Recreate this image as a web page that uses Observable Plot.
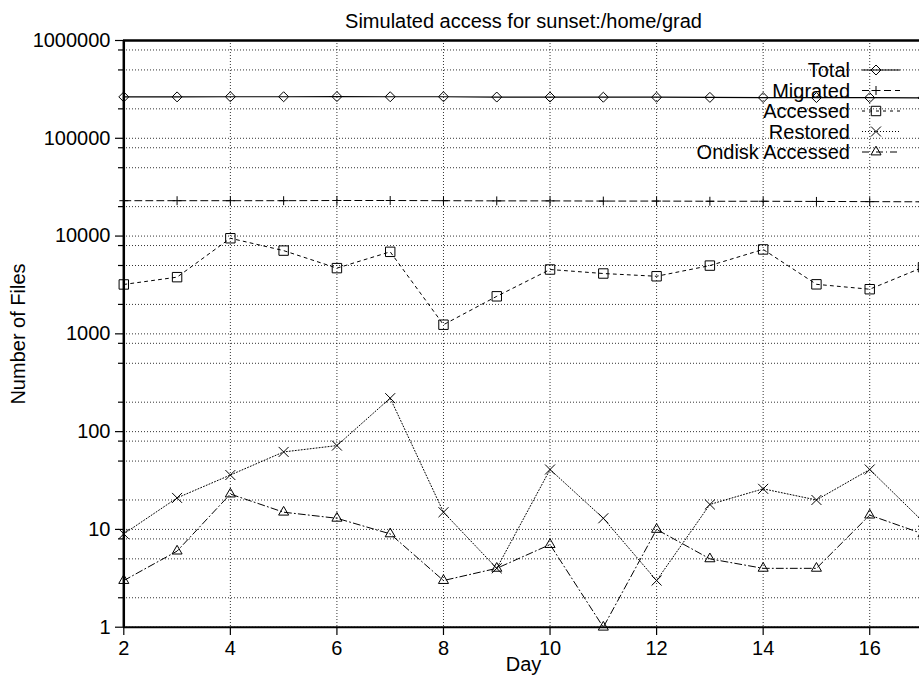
<!DOCTYPE html>
<html>
<head>
<meta charset="utf-8">
<script src="https://cdn.jsdelivr.net/npm/d3@7"></script>
<script src="https://cdn.jsdelivr.net/npm/@observablehq/plot@0.6"></script>
<style>
  html, body { margin: 0; padding: 0; background: #fff; overflow: hidden; }
  #chart svg { display: block; }
</style>
</head>
<body>
<div id="chart"></div>
<script>
// Daily file counts for the simulated access run
const days      = [2, 3, 4, 5, 6, 7, 8, 9, 10, 11, 12, 13, 14, 15, 16, 17];
const total     = [265000, 265000, 266000, 266000, 267000, 266000, 266000, 264000, 264000, 263000, 263000, 262000, 261000, 261000, 260000, 259000];
const migrated  = [23000, 23000, 23000, 23000, 23100, 23100, 23000, 22900, 22900, 22800, 22800, 22700, 22700, 22600, 22500, 22400];
const accessed  = [3200, 3800, 9500, 7100, 4700, 6900, 1240, 2420, 4550, 4140, 3880, 4990, 7300, 3210, 2860, 4800];
const restored  = [9, 21, 36, 62, 72, 220, 15, 4, 41, 13, 3, 18, 26, 20, 41, 12];
const ondisk    = [3, 6, 23, 15, 13, 9, 3, 4, 7, 1, 10, 5, 4, 4, 14, 9];

const seriesNames = ["Total", "Migrated", "Accessed", "Restored", "Ondisk Accessed"];
const seriesValues = [total, migrated, accessed, restored, ondisk];

const titleText = "Simulated access for sunset:/home/grad";
const xLabel = "Day";
const yLabel = "Number of Files";

const xTicks = [2, 4, 6, 8, 10, 12, 14, 16];
const xGrid = [4, 6, 8, 10, 12, 14, 16];
const yMajorTicks = [1, 10, 100, 1000, 10000, 100000, 1000000];
const yMinorTicks = [2, 5, 8, 20, 50, 80, 200, 500, 800, 2000, 5000, 8000,
                     20000, 50000, 80000, 200000, 500000, 800000];

// line and point style of each series
const styles = [
  {symbol: "diamond2", r: 4.5, dash: null,      width: 1.2},
  {symbol: "plus",     r: 3.0, dash: "7,4",     width: 1},
  {symbol: "square2",  r: 6.0, dash: "3,4",     width: 1},
  {symbol: "times",    r: 4.6, dash: "1,2",     width: 1},
  {symbol: "triangle2",r: 4.8, dash: "7,3,1,3", width: 1}
];

const rows = seriesNames.map((name, s) =>
  days.map((day, i) => ({series: name, day, value: seriesValues[s][i]})));

const font = "'Liberation Sans', Arial, Helvetica, sans-serif";
const gridStyle = {stroke: "black", strokeOpacity: 0.8, strokeWidth: 1, strokeDasharray: "1,2"};

const seriesMarks = rows.flatMap((data, s) => [
  Plot.line(data, {x: "day", y: "value", stroke: "black", strokeWidth: styles[s].width,
                   strokeDasharray: styles[s].dash}),
  Plot.dot(data, {x: "day", y: "value", symbol: styles[s].symbol, r: styles[s].r,
                  stroke: "black", strokeWidth: 1, fill: "none"})
]);

const chart = Plot.plot({
  width: 919,
  height: 680,
  marginTop: 40,
  marginLeft: 123,
  marginRight: 0,
  marginBottom: 53,
  style: {fontFamily: font, fontSize: "20px", color: "black", background: "white"},
  x: {domain: [2, 17], range: [123.3, 922.5]},
  y: {type: "log", domain: [1, 1e6], range: [626.7, 40]},
  marks: [
    Plot.gridY([...yMajorTicks, ...yMinorTicks], gridStyle),
    Plot.gridX(xGrid, gridStyle),
    Plot.axisY(yMajorTicks, {anchor: "left", tickSize: 8, tickPadding: 5, fontSize: 20,
                             tickFormat: d3.format("d"), label: null, strokeWidth: 1.2}),
    Plot.axisY(yMinorTicks, {anchor: "left", tickSize: 5, tickFormat: () => "", label: null, strokeWidth: 1.2}),
    Plot.axisX(xTicks, {anchor: "bottom", tickSize: 8, tickPadding: 5, fontSize: 20,
                        label: null, strokeWidth: 1.2}),
    Plot.ruleX([2], {stroke: "black", strokeWidth: 2.5}),
    Plot.ruleY([1], {stroke: "black", strokeWidth: 2}),
    Plot.ruleY([1e6], {stroke: "black", strokeWidth: 2.5}),
    ...seriesMarks,
    Plot.text([titleText], {frameAnchor: "top", dx: 2, dy: -27, fontSize: 20}),
    Plot.text([xLabel], {frameAnchor: "bottom", dx: 2, dy: 43, fontSize: 20}),
    Plot.text([yLabel], {frameAnchor: "left", textAnchor: "middle", dx: -105, rotate: -90, fontSize: 20})
  ]
});

// key in the upper right: right-aligned names with a short sample of each line
const symbolTypes = {
  diamond2: d3.symbolDiamond2, plus: d3.symbolPlus, square2: d3.symbolSquare2,
  times: d3.symbolTimes, triangle2: d3.symbolTriangle2
};
const key = d3.select(chart).append("g")
  .attr("font-family", font).attr("font-size", 20);
seriesNames.forEach((name, s) => {
  const y = 70 + s * 20.5;
  key.append("text").attr("x", 850).attr("y", y).attr("dy", "0.35em")
    .attr("text-anchor", "end").attr("fill", "black").text(name);
  key.append("line").attr("x1", 862).attr("x2", 900).attr("y1", y).attr("y2", y)
    .attr("stroke", "black").attr("stroke-width", styles[s].width)
    .attr("stroke-dasharray", styles[s].dash);
  key.append("path")
    .attr("d", d3.symbol(symbolTypes[styles[s].symbol], Math.PI * styles[s].r ** 2)())
    .attr("transform", `translate(876,${y})`)
    .attr("fill", "none").attr("stroke", "black").attr("stroke-width", 1);
});

document.getElementById("chart").append(chart);
</script>
</body>
</html>
